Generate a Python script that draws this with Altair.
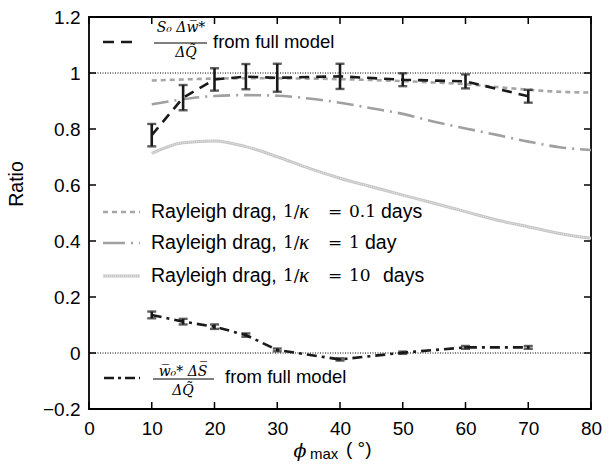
import altair as alt
import pandas as pd

# Full-model runs: latitude of maximum heating and the two ratio terms (with error bars)
phi_runs = [10, 15, 20, 25, 30, 40, 50, 60, 70]
sw_ratio = [0.778, 0.912, 0.977, 0.987, 0.983, 0.988, 0.976, 0.970, 0.917]
sw_err = [0.040, 0.045, 0.040, 0.045, 0.050, 0.045, 0.023, 0.025, 0.023]
ws_ratio = [0.136, 0.112, 0.094, 0.064, 0.011, -0.023, 0.001, 0.020, 0.020]
ws_err = [0.012, 0.010, 0.008, 0.006, 0.005, 0.004, 0.004, 0.005, 0.005]

# Rayleigh-drag model curves
phi_drag = [10, 15, 20, 25, 30, 35, 40, 45, 50, 55, 60, 65, 70, 75, 80]
drag_01 = [0.973, 0.977, 0.980, 0.981, 0.981, 0.980, 0.978, 0.975, 0.971, 0.966,
           0.960, 0.950, 0.940, 0.933, 0.930]
drag_1 = [0.888, 0.906, 0.918, 0.921, 0.919, 0.909, 0.894, 0.874, 0.854, 0.826,
          0.802, 0.779, 0.755, 0.735, 0.725]
drag_10 = [0.713, 0.751, 0.757, 0.737, 0.701, 0.660, 0.624, 0.594, 0.564, 0.535,
           0.505, 0.475, 0.451, 0.427, 0.410]

x_ticks = [0, 10, 20, 30, 40, 50, 60, 70, 80]
y_ticks = [-0.2, 0, 0.2, 0.4, 0.6, 0.8, 1.0, 1.2]
ref_levels = [0.0, 1.0]

W, H = 502, 392
SANS = "Liberation Sans"
SERIF = "DejaVu Serif"

xs = alt.Scale(domain=[0, 80], nice=False, zero=False)
ys = alt.Scale(domain=[-0.2, 1.2], nice=False, zero=False)

# one axis definition shared by every layer so they merge cleanly
x_axis = alt.Axis(values=x_ticks, ticks=False, domain=False, grid=False, title=None,
                  labelFont=SANS, labelFontSize=19, labelColor="black", labelPadding=10,
                  labelFlush=False)
y_axis = alt.Axis(values=y_ticks, format="~g", ticks=False, domain=False, grid=False,
                  title=None, labelFont=SANS, labelFontSize=19, labelColor="black",
                  labelPadding=9, labelFlush=False)

runs = pd.DataFrame({
    "phi": phi_runs,
    "sw": sw_ratio,
    "sw_lo": [v - e for v, e in zip(sw_ratio, sw_err)],
    "sw_hi": [v + e for v, e in zip(sw_ratio, sw_err)],
    "ws": ws_ratio,
    "ws_lo": [v - e for v, e in zip(ws_ratio, ws_err)],
    "ws_hi": [v + e for v, e in zip(ws_ratio, ws_err)],
})
drag = pd.DataFrame({"phi": phi_drag, "d01": drag_01, "d1": drag_1, "d10": drag_10})


def X(f="phi"):
    return alt.X(f"{f}:Q", scale=xs, axis=x_axis)


def Y(f):
    return alt.Y(f"{f}:Q", scale=ys, axis=y_axis)


refs = alt.Chart(pd.DataFrame({"v": ref_levels})).mark_rule(
    color="black", strokeWidth=1, strokeDash=[1, 1.5]).encode(y=Y("v"))

base_d = alt.Chart(drag)
l01 = base_d.mark_line(color="#a6a6a6", strokeWidth=2.6, strokeDash=[5, 4],
                       interpolate="monotone").encode(x=X(), y=Y("d01"))
l1 = base_d.mark_line(color="#a0a0a0", strokeWidth=2.6, strokeDash=[17, 6, 2, 6],
                      interpolate="monotone").encode(x=X(), y=Y("d1"))
l10 = base_d.mark_line(color="#c6c6c6", strokeWidth=3,
                       interpolate="monotone").encode(x=X(), y=Y("d10"))
l10_tex = base_d.mark_line(color="#ececec", strokeWidth=1, strokeDash=[1, 1],
                           interpolate="monotone").encode(x=X(), y=Y("d10"))

INK = "#1a1a1a"
base_r = alt.Chart(runs)
sw_line = base_r.mark_line(color=INK, strokeWidth=2.6, strokeDash=[10, 7]).encode(
    x=X(), y=Y("sw"))
sw_bar = base_r.mark_rule(color=INK, strokeWidth=2.6).encode(
    x=X(), y=Y("sw_lo"), y2="sw_hi")
sw_cap_lo = base_r.mark_tick(color=INK, orient="horizontal", size=9, thickness=2.4).encode(
    x=X(), y=Y("sw_lo"))
sw_cap_hi = base_r.mark_tick(color=INK, orient="horizontal", size=9, thickness=2.4).encode(
    x=X(), y=Y("sw_hi"))

ws_line = base_r.mark_line(color=INK, strokeWidth=2.6, strokeDash=[10, 5, 3, 5]).encode(
    x=X(), y=Y("ws"))
ws_bar = base_r.mark_rule(color=INK, strokeWidth=2.6).encode(
    x=X(), y=Y("ws_lo"), y2="ws_hi")
ws_cap_lo = base_r.mark_tick(color=INK, orient="horizontal", size=9, thickness=2.4).encode(
    x=X(), y=Y("ws_lo"))
ws_cap_hi = base_r.mark_tick(color=INK, orient="horizontal", size=9, thickness=2.4).encode(
    x=X(), y=Y("ws_hi"))

# inward-pointing ticks on all four sides
tx = alt.Chart(pd.DataFrame({"t": x_ticks}))
ty = alt.Chart(pd.DataFrame({"t": y_ticks}))
tick_style = dict(color="black", strokeWidth=1.5)
ticks = [
    tx.mark_rule(**tick_style).encode(x=X("t"), y=alt.value(H), y2=alt.value(H - 7)),
    tx.mark_rule(**tick_style).encode(x=X("t"), y=alt.value(0), y2=alt.value(7)),
    ty.mark_rule(**tick_style).encode(y=Y("t"), x=alt.value(0), x2=alt.value(7)),
    ty.mark_rule(**tick_style).encode(y=Y("t"), x=alt.value(W), x2=alt.value(W - 7)),
]

one = pd.DataFrame({"k": [0]})


def txt(s, x, y, font=SANS, size=18, style="normal", align="left", angle=0):
    return alt.Chart(one).mark_text(
        text=s, font=font, fontSize=size, fontStyle=style, align=align,
        baseline="middle", angle=angle, color="black").encode(
        x=alt.value(x), y=alt.value(y))


def swatch(x0, x1, y, color, width, dash=None):
    kw = dict(color=color, strokeWidth=width)
    if dash:
        kw["strokeDash"] = dash
    return alt.Chart(one).mark_rule(**kw).encode(
        x=alt.value(x0), x2=alt.value(x1), y=alt.value(y))


legend = []
# top entry: S0 Δw* / ΔQ from full model
legend += [
    swatch(14, 45, 25, INK, 2.6, [11, 7]),
    txt("S\u0305\u2080 \u0394w\u0305*", 92, 11, SERIF, 14, "italic", "center"),
    swatch(65, 118, 26, "black", 1),
    txt("\u0394Q\u0303", 97, 36, SERIF, 14, "italic", "center"),
    txt("from full model", 124, 25, SANS, 18.5),
]
# Rayleigh drag entries
rows = [
    (195, "0.1", "days", 292, swatch(14, 51, 195, "#a6a6a6", 2.6, [5, 4])),
    (226, "1", "day", 276, swatch(14, 51, 226, "#a0a0a0", 2.6, [22, 6, 2, 6])),
    (259, "10", "days", 294, swatch(14, 51, 259, "#c6c6c6", 3)),
]
for y, num, unit, ux, sw in rows:
    legend += [
        sw,
        txt("Rayleigh drag,", 62, y, SANS, 19.5),
        txt("1/", 194, y, SERIF, 17),
        txt("\u03ba", 210, y, "Liberation Serif", 21, "italic"),
        txt("=", 239, y, SERIF, 17),
        txt(num, 260, y, SERIF, 17),
        txt(unit, ux, y, SANS, 19.5),
    ]
legend.append(swatch(14, 51, 259, "#ececec", 1, [1, 1]))
# bottom entry: w0* ΔS / ΔQ from full model
legend += [
    swatch(15, 51, 361, INK, 2.6, [10, 4, 3, 4]),
    txt("w\u0305\u2080* \u0394S\u0305", 94, 355, SERIF, 14, "italic", "center"),
    swatch(64, 125, 362, "black", 1),
    txt("\u0394Q\u0303", 94, 374, SERIF, 14, "italic", "center"),
    txt("from full model", 136, 360, SANS, 18.5),
]

titles = [
    txt("Ratio", -72, 167, SANS, 19.5, angle=270, align="center"),
    txt("\u03d5", 211, 434, SERIF, 19, "italic", "center"),
    txt("max", 221, 437, SANS, 15),
    txt("( \u00b0)", 257, 432, SANS, 19),
]

chart = alt.layer(
    refs, l10, l10_tex, l1, l01,
    ws_line, ws_bar, ws_cap_lo, ws_cap_hi,
    sw_line, sw_bar, sw_cap_lo, sw_cap_hi,
    *ticks, *legend, *titles,
).properties(
    width=W, height=H,
    padding={"left": 89, "top": 17, "right": 22, "bottom": 58},
    autosize=alt.AutoSizeParams(type="none"),
    background="white",
).configure_view(stroke="black", strokeWidth=1.8)

chart.save("out.html", embed_options={"renderer": "svg", "actions": False})
